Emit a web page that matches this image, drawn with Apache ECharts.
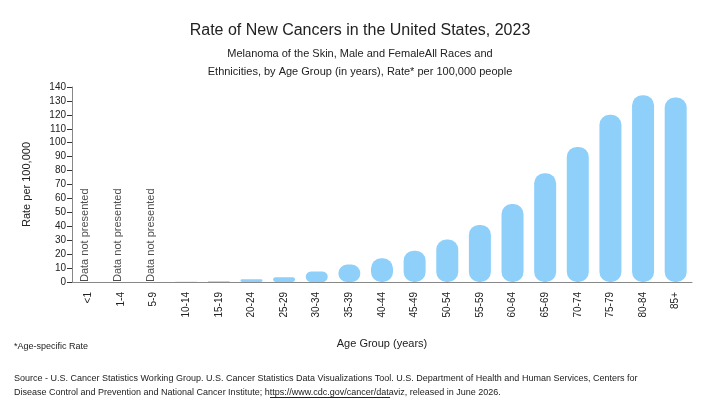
<!DOCTYPE html>
<html><head><meta charset="utf-8">
<script src="https://cdn.jsdelivr.net/npm/echarts@6/dist/echarts.min.js"></script>
<style>html,body{margin:0;background:#fff}#c{width:720px;height:405px}</style>
</head><body><div id="c"></div>
<script>
const categories=['<1','1-4','5-9','10-14','15-19','20-24','25-29','30-34','35-39','40-44','45-49','50-54','55-59','60-64','65-69','70-74','75-79','80-84','85+'];
const rates=[null,null,null,0.1,0.5,2,3.5,7.5,12.5,17,22.5,30.5,41,56,78,97,120,134,132.5];
const notPresented=['<1','1-4','5-9'];
const chart=echarts.init(document.getElementById('c'));
const F='Arial, Liberation Sans, sans-serif';
chart.setOption({
  animation:false,
  title:{text:'Rate of New Cancers in the United States, 2023',left:'center',top:18,
    textStyle:{fontFamily:F,fontSize:16,fontWeight:'normal',color:'#222'},
    subtext:'Melanoma of the Skin, Male and FemaleAll Races and\nEthnicities, by Age Group (in years), Rate* per 100,000 people',
    subtextStyle:{fontFamily:F,fontSize:11,color:'#222',lineHeight:18},itemGap:6},
  grid:{left:72,right:28,top:87,bottom:123},
  xAxis:{type:'category',data:categories,
    axisLine:{lineStyle:{color:'#888'}},axisTick:{alignWithLabel:true,lineStyle:{color:'#333'},length:6},
    axisLabel:{rotate:90,fontFamily:F,fontSize:10,color:'#222',margin:10},
    name:'Age Group (years)',nameLocation:'middle',nameGap:56,nameTextStyle:{fontFamily:F,fontSize:11,color:'#222'}},
  yAxis:{type:'value',min:0,max:140,interval:10,
    axisLine:{show:true,lineStyle:{color:'#888'}},axisTick:{show:true,lineStyle:{color:'#333'}},splitLine:{show:false},
    axisLabel:{fontFamily:F,fontSize:10,color:'#222',margin:6},
    name:'Rate per 100,000',nameLocation:'middle',nameGap:40,nameTextStyle:{fontFamily:F,fontSize:11,color:'#222'}},
  series:[{type:'bar',data:rates,barWidth:22,itemStyle:{color:'#8fd0fb',borderRadius:10}},
    {type:'scatter',symbolSize:0,data:notPresented.map(c=>[c,0]),
     label:{show:true,formatter:'Data not presented',rotate:90,position:'insideLeft',offset:[0,-8],align:'left',verticalAlign:'middle',
       fontFamily:F,fontSize:11,color:'#222'}}],
  graphic:[
    {type:'text',left:14,top:342,style:{text:'*Age-specific Rate',font:'9px '+F,fill:'#222'}},
    {type:'text',left:14,top:372,style:{text:'Source - U.S. Cancer Statistics Working Group. U.S. Cancer Statistics Data Visualizations Tool. U.S. Department of Health and Human Services, Centers for\nDisease Control and Prevention and National Cancer Institute; https://www.cdc.gov/cancer/dataviz, released in June 2026.',font:'9px '+F,fill:'#222',lineHeight:14}},
    {type:'rect',shape:{x:270,y:397,width:120,height:1},style:{fill:'#222'}}
  ]
});
</script></body></html>
